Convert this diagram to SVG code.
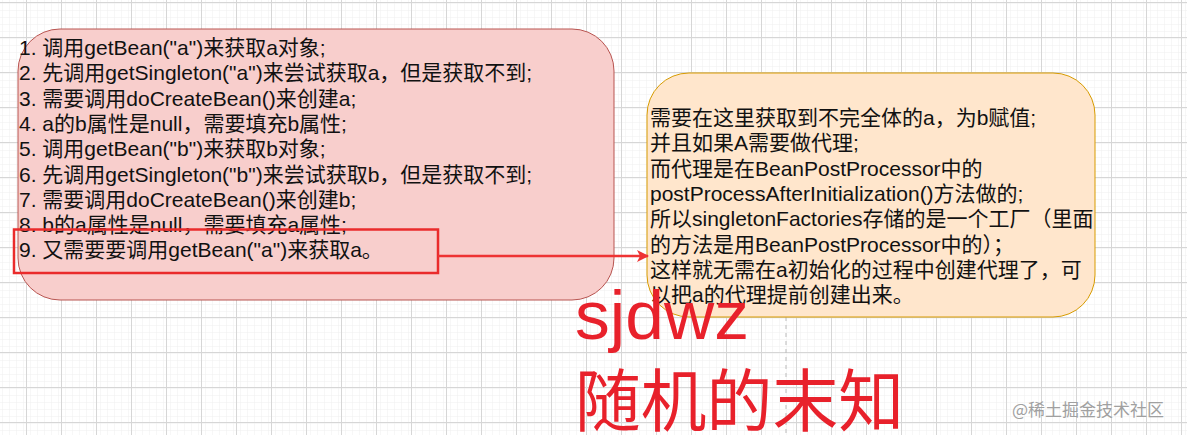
<svg xmlns="http://www.w3.org/2000/svg" width="1187" height="435" viewBox="0 0 1187 435">
<defs>
<pattern id="minor" x="26" y="2" width="7" height="7" patternUnits="userSpaceOnUse">
<path d="M7 0V7M0 7H7" fill="none" stroke="#efefef" stroke-width="1"/>
</pattern>
<pattern id="major" x="26" y="2" width="35" height="35" patternUnits="userSpaceOnUse">
<rect width="35" height="35" fill="url(#minor)"/>
<path d="M0.5 0V35M0 0.5H35" fill="none" stroke="#d6d6d6" stroke-width="1"/>
</pattern>
<marker id="arr" viewBox="0 0 12 12" refX="11" refY="6" markerWidth="12" markerHeight="12" markerUnits="userSpaceOnUse" orient="auto">
<path d="M0 0L12 6L0 12L3 6Z" fill="#ee3333"/>
</marker>
<style>
.t{font-family:"Liberation Sans","Noto Sans CJK SC",sans-serif;font-size:21px;fill:#111}
.big{font-family:"Liberation Sans","Noto Sans CJK SC",sans-serif;fill:#e8212b}
.wm{font-family:"Noto Sans CJK SC",sans-serif;font-size:17px;fill:#a0a0a0}
</style>
</defs>
<rect width="1187" height="435" fill="#ffffff"/>
<rect width="1187" height="435" fill="url(#major)"/>
<line x1="786" y1="317" x2="786" y2="435" stroke="#bbbbbb" stroke-width="1" stroke-dasharray="4 4"/>
<g id="node-left">
<rect x="18" y="29" width="596" height="271" rx="42" ry="42" fill="#f8cecc" stroke="#b85450" stroke-width="1"/>
<text class="t" x="19" y="55">1. 调用getBean("a")来获取a对象;</text>
<text class="t" x="19" y="80.3">2. 先调用getSingleton("a")来尝试获取a，但是获取不到;</text>
<text class="t" x="19" y="105.6">3. 需要调用doCreateBean()来创建a;</text>
<text class="t" x="19" y="130.9">4. a的b属性是null，需要填充b属性;</text>
<text class="t" x="19" y="156.2">5. 调用getBean("b")来获取b对象;</text>
<text class="t" x="19" y="181.5">6. 先调用getSingleton("b")来尝试获取b，但是获取不到;</text>
<text class="t" x="19" y="206.8">7. 需要调用doCreateBean()来创建b;</text>
<text class="t" x="19" y="232.1">8. b的a属性是null，需要填充a属性;</text>
<text class="t" x="19" y="257.4">9. 又需要要调用getBean("a")来获取a。</text>
</g>
<g id="node-highlight">
<rect x="14" y="229.5" width="424" height="43.5" fill="none" stroke="#ea2b2b" stroke-width="2.5"/>
</g>
<g id="node-right">
<rect x="647" y="73" width="448" height="244" rx="42" ry="42" fill="#ffe6cc" stroke="#d79b00" stroke-width="1"/>
<text class="t" x="650" y="125">需要在这里获取到不完全体的a，为b赋值;</text>
<text class="t" x="650" y="150.3">并且如果A需要做代理;</text>
<text class="t" x="650" y="175.6">而代理是在BeanPostProcessor中的</text>
<text class="t" x="650" y="200.9">postProcessAfterInitialization()方法做的;</text>
<text class="t" x="650" y="226.2">所以singletonFactories存储的是一个工厂（里面</text>
<text class="t" x="650" y="251.5">的方法是用BeanPostProcessor中的）；</text>
<text class="t" x="650" y="276.8">这样就无需在a初始化的过程中创建代理了，可</text>
<text class="t" x="650" y="302.1">以把a的代理提前创建出来。</text>
</g>
<g id="connectors">
<line x1="438" y1="256" x2="648" y2="256" stroke="#ee3333" stroke-width="2.5" marker-end="url(#arr)"/>
</g>
<g id="label-big">
<text class="big" x="575" y="339" font-size="68" textLength="174" lengthAdjust="spacingAndGlyphs">sjdwz</text>
<text class="big" x="575" y="426" font-size="68" textLength="329" lengthAdjust="spacingAndGlyphs">随机的末知</text>
</g>
<text class="wm" x="1012" y="416">@稀土掘金技术社区</text>
</svg>
